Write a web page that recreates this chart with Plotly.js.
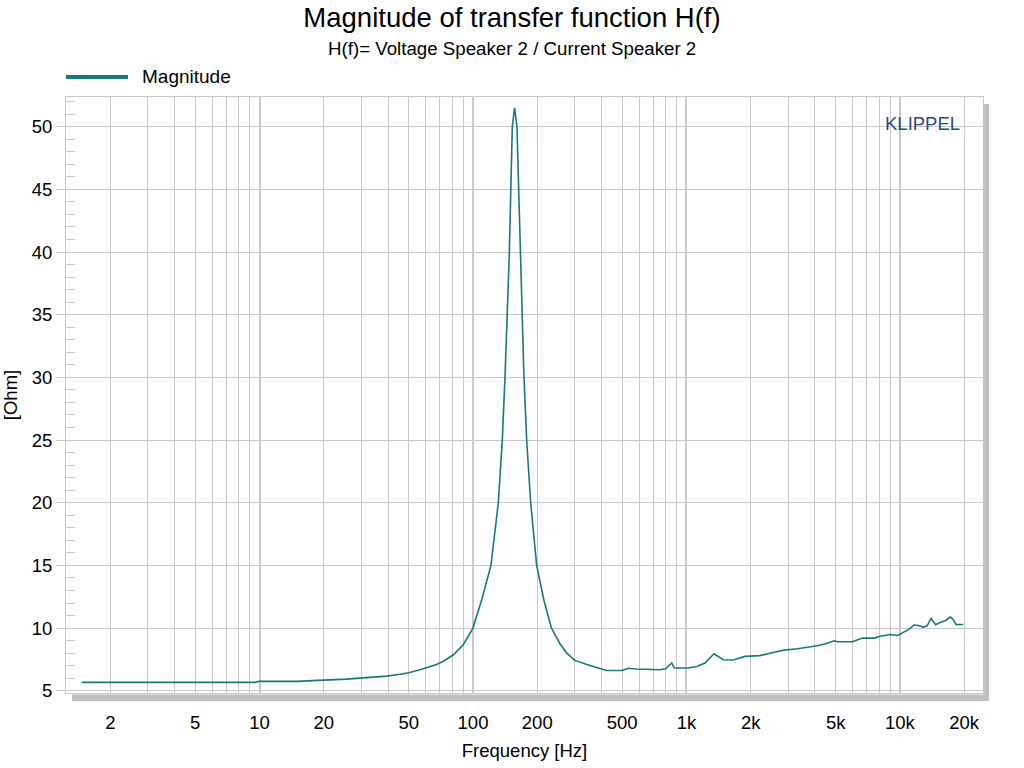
<!DOCTYPE html>
<html>
<head>
<meta charset="utf-8">
<script src="https://cdn.plot.ly/plotly-3.0.1.min.js"></script>
<style>
  html, body { margin: 0; padding: 0; background: #ffffff; }
  #chart { width: 1024px; height: 768px; }
</style>
</head>
<body>
<div id="chart"></div>
<script>
// Frequency (Hz) and impedance magnitude (Ohm)
const freqHz = [
  1.47, 2, 5, 9.5, 10, 15, 18.8, 25.6, 34.1, 39.4, 45.5, 50, 56.5, 62.9, 67.6, 72.6, 81, 90,
  100, 110, 121.4, 131.4, 137.2, 141.2, 143.8, 146, 148, 150.2, 152.8, 156.6,
  160.7, 163.7, 166.5, 168.4, 169.6, 173.3, 178.4, 186.3, 198.7, 215, 233, 255.6, 275,
  300, 353, 400, 423, 500, 533, 580, 700, 750, 800, 853, 877, 900, 1020, 1117, 1221,
  1345, 1486, 1656, 1880, 2207, 2551, 2860, 3310, 3690, 4100, 4490, 4920, 5100, 5990,
  6670, 7560, 8000, 9000, 9760, 10400, 10960, 11650, 12200, 12900, 13400, 14000, 14700,
  15400, 16300, 17200, 17700, 18300, 19800
];
const magnitudeOhm = [
  5.67, 5.67, 5.67, 5.67, 5.75, 5.75, 5.83, 5.93, 6.09, 6.17, 6.31, 6.44, 6.67, 6.89, 7.1, 7.35, 7.87, 8.67,
  10.0, 12.3, 15.0, 20.0, 25.0, 30.0, 35.0, 37.0, 40.0, 45.0, 50.0, 51.5,
  50.0, 45.0, 40.0, 37.0, 35.0, 30.0, 25.0, 20.0, 15.0, 12.2, 10.0, 8.75, 8.0,
  7.42, 7.02, 6.75, 6.61, 6.61, 6.79, 6.73, 6.70, 6.67, 6.75, 7.21, 6.83, 6.81, 6.81, 6.94, 7.21,
  7.95, 7.47, 7.45, 7.74, 7.80, 8.05, 8.24, 8.35, 8.45, 8.59, 8.75, 8.99, 8.91, 8.91,
  9.20, 9.20, 9.33, 9.49, 9.41, 9.65, 9.87, 10.24, 10.21, 10.08, 10.18, 10.77, 10.26,
  10.45, 10.59, 10.88, 10.72, 10.29, 10.29
];

// Axis ticks
const xGridVals = [2,3,4,5,6,7,8,9,20,30,40,50,60,70,80,90,200,300,400,500,600,700,800,900,
                   2000,3000,4000,5000,6000,7000,8000,9000,20000];
const xLabeled = {2:'2',5:'5',20:'20',50:'50',200:'200',500:'500',2000:'2k',5000:'5k',20000:'20k'};
const xDecadeVals = [10, 100, 1000, 10000];
const xDecadeText = ['10', '100', '1k', '10k'];
const yTickVals = [5,10,15,20,25,30,35,40,45,50];

const titleText = 'Magnitude of transfer function H(f)';
const subtitleText = 'H(f)= Voltage Speaker 2 / Current Speaker 2';
const seriesName = 'Magnitude';
const xTitle = 'Frequency [Hz]';
const yTitle = '[Ohm]';
const brand = 'KLIPPEL';

const lineColor = '#177a76';
const gridColor = '#c8c8c8';
const fontFam = '"Liberation Sans", Arial, sans-serif';
const fs = 18.5;

// plot geometry
const L = 66, R = 983, T = 97, B = 693, W = 1024, H = 768;
const pw = R - L, ph = B - T;

const traces = [
  {
    x: freqHz, y: magnitudeOhm, type: 'scatter', mode: 'lines', name: seriesName,
    line: {color: lineColor, width: 1.6}, showlegend: false, hoverinfo: 'x+y'
  },
  // invisible trace to activate the decade overlay axis
  {
    x: [xDecadeVals[0], xDecadeVals[xDecadeVals.length-1]], y: [yTickVals[0], yTickVals[0]],
    xaxis: 'x2', type: 'scatter', mode: 'lines', line: {width: 0, color: 'rgba(0,0,0,0)'},
    showlegend: false, hoverinfo: 'skip'
  }
];

const xr = [Math.log10(1.24), Math.log10(24500)];

const layout = {
  width: W, height: H,
  paper_bgcolor: '#ffffff', plot_bgcolor: '#ffffff',
  margin: {l: L, r: W - R, t: T, b: H - B, pad: 0},
  font: {family: fontFam, color: '#000000', size: fs},
  title: {
    text: titleText, font: {size: 27.5, family: fontFam, color: '#000'},
    xref: 'container', yref: 'container', x: 0.5, y: 1 - 17/H, xanchor: 'center', yanchor: 'middle'
  },
  showlegend: false,
  xaxis: {
    type: 'log', range: xr,
    tickmode: 'array', tickvals: xGridVals,
    ticktext: xGridVals.map(v => xLabeled[v] || ''),
    showgrid: true, gridcolor: gridColor, gridwidth: 1,
    ticks: 'outside', ticklen: 13, tickcolor: 'rgba(0,0,0,0)',
    tickfont: {size: fs, family: fontFam, color: '#000'},
    showline: true, linecolor: gridColor, linewidth: 1, mirror: true,
    zeroline: false,
    title: {text: xTitle, font: {size: fs, family: fontFam, color: '#000'}, standoff: 11},
    fixedrange: true
  },
  xaxis2: {
    type: 'log', range: xr, overlaying: 'x', side: 'bottom',
    tickmode: 'array', tickvals: xDecadeVals, ticktext: xDecadeText,
    showgrid: true, gridcolor: gridColor, gridwidth: 2.2,
    ticks: 'outside', ticklen: 13, tickcolor: 'rgba(0,0,0,0)',
    tickfont: {size: fs, family: fontFam, color: '#000'},
    showline: false, zeroline: false, fixedrange: true
  },
  yaxis: {
    range: [4.82, 52.37],
    tickmode: 'array', tickvals: yTickVals,
    showgrid: true, gridcolor: gridColor, gridwidth: 1,
    ticks: 'outside', ticklen: 9, tickcolor: gridColor, tickwidth: 1,
    tickfont: {size: fs, family: fontFam, color: '#000'},
    minor: {dtick: 1, ticks: 'inside', ticklen: 9, tickcolor: gridColor, tickwidth: 1, showgrid: false},
    showline: true, linecolor: gridColor, linewidth: 1, mirror: true,
    zeroline: false,
    title: {text: yTitle, font: {size: fs, family: fontFam, color: '#000'}, standoff: 12},
    fixedrange: true
  },
  shapes: [
    // drop shadow, right strip
    {type: 'rect', xref: 'paper', yref: 'paper', layer: 'above',
     x0: 1 + 0.5/pw, x1: 1 + 6/pw, y0: -8/ph, y1: 1 - 7/ph,
     fillcolor: '#c0c0c0', line: {width: 0}},
    // drop shadow, bottom strip
    {type: 'rect', xref: 'paper', yref: 'paper', layer: 'above',
     x0: 6/pw, x1: 1 + 6/pw, y0: -8/ph, y1: -1.5/ph,
     fillcolor: '#c0c0c0', line: {width: 0}},
    // legend swatch
    {type: 'line', xref: 'paper', yref: 'paper',
     x0: 0, x1: 62/pw, y0: 1 + 20/ph, y1: 1 + 20/ph,
     line: {color: lineColor, width: 4}}
  ],
  annotations: [
    {text: subtitleText, xref: 'paper', yref: 'paper', x: (512 - L)/pw, y: 1 + (T - 48)/ph,
     xanchor: 'center', yanchor: 'middle', showarrow: false,
     font: {size: 18.7, family: fontFam, color: '#000'}},
    {text: seriesName, xref: 'paper', yref: 'paper', x: 74/pw, y: 1 + 20/ph,
     xanchor: 'left', yanchor: 'middle', showarrow: false,
     font: {size: 19, family: fontFam, color: '#000'}},
    {text: brand, xref: 'paper', yref: 'paper', x: (922 - L)/pw, y: 1 - 26/ph,
     xanchor: 'center', yanchor: 'middle', showarrow: false,
     font: {size: fs, family: fontFam, color: '#2c4a80'}}
  ]
};

Plotly.newPlot('chart', traces, layout, {displayModeBar: false});
</script>
</body>
</html>
